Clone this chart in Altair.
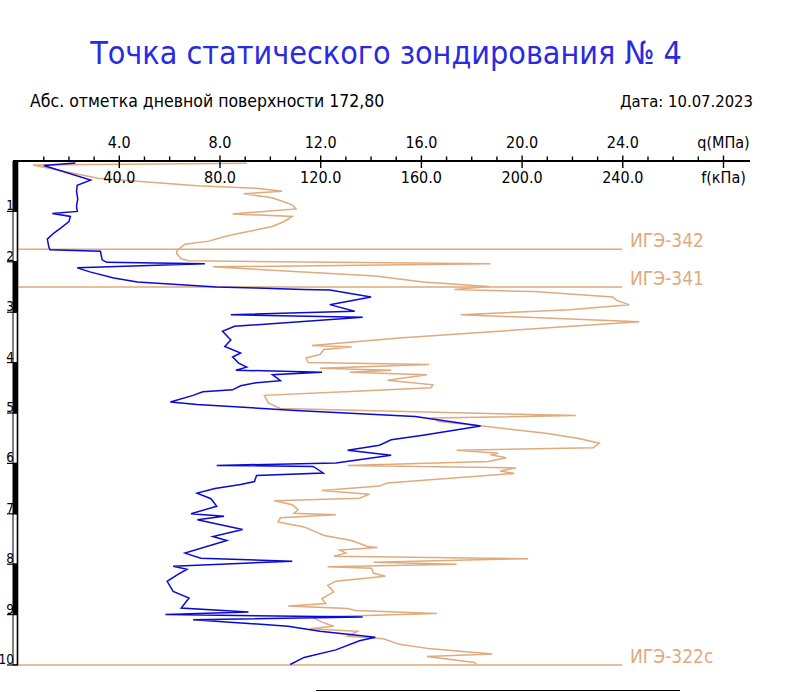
import altair as alt
import pandas as pd

# ---------------- data ----------------
blue_depth = [0.04, 0.09, 0.38, 0.48, 0.60, 0.75, 0.90, 1.00, 1.04, 1.10, 1.20, 1.33, 1.43, 1.55,
              1.70, 1.76, 1.79, 1.96, 2.01, 2.04, 2.12, 2.20, 2.32, 2.40, 2.45, 2.50, 2.52, 2.55,
              2.56, 2.70, 2.85, 2.98, 3.05, 3.10, 3.28, 3.38, 3.55, 3.68, 3.81, 3.89, 4.01, 4.09,
              4.15, 4.19, 4.24, 4.36, 4.40, 4.46, 4.54, 4.58, 4.65, 4.78, 4.83, 4.95, 5.07, 5.26,
              5.44, 5.53, 5.64, 5.74, 5.84, 5.99, 6.04, 6.06, 6.19, 6.24, 6.36, 6.42, 6.50, 6.59,
              6.70, 6.85, 7.00, 7.05, 7.12, 7.31, 7.45, 7.53, 7.78, 7.88, 7.94, 8.04, 8.10, 8.21,
              8.34, 8.54, 8.67, 8.87, 8.95, 9.00, 9.05, 9.10, 9.23, 9.33, 9.45, 9.52, 9.70, 9.85,
              9.99]
blue_q = [2.26, 1.00, 2.86, 2.33, 2.30, 2.35, 2.30, 2.33, 1.34, 2.06, 2.00, 1.67, 1.40, 1.14,
          1.20, 1.25, 3.25, 3.32, 3.50, 7.40, 2.33, 2.83, 3.78, 4.72, 6.30, 7.87, 9.45, 11.30,
          12.36, 14.00, 12.36, 13.35, 8.43, 13.67, 8.58, 8.10, 8.43, 8.19, 8.82, 8.50, 8.74, 9.06,
          8.63, 12.05, 10.08, 10.40, 9.45, 8.82, 8.50, 7.32, 6.93, 6.03, 7.09, 11.00, 15.75, 18.35,
          16.06, 14.80, 14.33, 13.07, 14.80, 12.60, 7.87, 11.70, 12.10, 9.45, 9.37, 8.82, 7.80, 7.09,
          7.64, 7.87, 6.85, 8.16, 7.10, 8.90, 7.72, 8.27, 6.61, 7.24, 10.87, 6.14, 6.69, 6.30,
          5.90, 6.14, 6.77, 6.46, 9.13, 5.83, 13.67, 6.93, 10.70, 11.97, 14.17, 13.54, 12.60, 11.34,
          10.79]

tan_depth = [0.046, 0.08, 0.34, 0.49, 0.54, 0.60, 0.65, 0.73, 0.87, 0.95, 1.05, 1.10, 1.20, 1.30,
             1.43, 1.50, 1.59, 1.65, 1.77, 1.83, 1.94, 1.98, 2.04, 2.10, 2.28, 2.40, 2.49, 2.55,
             2.59, 2.70, 2.77, 2.85, 2.95, 3.05, 3.19, 3.51, 3.66, 3.69, 3.74, 3.84, 3.91, 4.00,
             4.04, 4.11, 4.15, 4.19, 4.24, 4.35, 4.44, 4.50, 4.57, 4.65, 4.80, 4.91, 5.05, 5.10,
             5.17, 5.26, 5.40, 5.50, 5.60, 5.69, 5.74, 5.80, 5.83, 5.89, 5.96, 6.04, 6.09, 6.15,
             6.20, 6.39, 6.45, 6.54, 6.61, 6.69, 6.74, 6.82, 6.92, 6.99, 7.02, 7.08, 7.16, 7.26,
             7.43, 7.53, 7.65, 7.67, 7.72, 7.78, 7.84, 7.89, 7.96, 8.00, 8.05, 8.08, 8.18, 8.24,
             8.34, 8.42, 8.55, 8.68, 8.78, 8.83, 8.88, 8.92, 8.98, 9.05, 9.15, 9.23, 9.28, 9.33,
             9.43, 9.48, 9.59, 9.68, 9.78, 9.83, 9.95, 9.99]
tan_f = [90.7, 5.7, 31.5, 70.9, 94.5, 104.7, 89.4, 100.8, 108.7, 110.2, 85.0, 108.7, 105.5, 100.8,
         88.2, 81.9, 75.6, 66.1, 63.0, 62.7, 64.6, 67.7, 187.4, 77.2, 141.7, 160.6, 187.0, 173.2,
         204.7, 236.0, 237.8, 242.5, 218.9, 175.6, 246.5, 151.2, 116.5, 132.3, 121.3, 119.7, 114.2, 115.0,
         163.0, 119.7, 148.0, 131.5, 162.2, 146.5, 164.6, 163.8, 133.9, 97.6, 99.2, 103.9, 221.3, 164.6,
         167.0, 184.3, 209.4, 222.0, 230.7, 228.3, 174.0, 190.5, 187.5, 193.7, 186.6, 130.7, 197.6, 191.3,
         196.9, 146.5, 143.3, 120.5, 139.4, 135.4, 101.6, 108.7, 111.0, 109.4, 126.0, 104.0, 103.1, 113.4,
         121.3, 132.3, 138.6, 142.5, 127.6, 130.0, 125.2, 202.4, 141.0, 174.0, 122.8, 140.2, 141.0, 145.7,
         126.0, 122.8, 125.2, 120.5, 122.0, 107.1, 130.7, 133.9, 166.1, 116.5, 120.5, 125.2, 115.7, 134.6,
         130.7, 144.9, 151.2, 163.8, 188.2, 162.2, 181.1, 181.9]

q_major = [4, 8, 12, 16, 20, 24, 28]
q_labels = ["4.0", "8.0", "12.0", "16.0", "20.0", "24.0", "q(МПа)"]
f_labels = ["40.0", "80.0", "120.0", "160.0", "200.0", "240.0", "f(кПа)"]
q_minor = [1, 2, 3, 5, 6, 7, 9, 10, 11, 13, 14, 15, 17, 18, 19, 21, 22, 23, 25, 26, 27]
depth_marks = [1, 2, 3, 4, 5, 6, 7, 8, 9, 10]
depth_labels = ["1", "2", "3", "4", "5", "6", "7", "8", "9", "10"]
bar_top = [0, 1, 2, 3, 4, 5, 6, 7, 8, 9]
bar_bottom = [1, 2, 3, 4, 5, 6, 7, 8, 9, 10]
ige_depth = [1.75, 2.5, 10.0]
ige_names = ["ИГЭ-342", "ИГЭ-341", "ИГЭ-322с"]
title_text = "Точка статического зондирования № 4"
surface_text = "Абс. отметка дневной поверхности 172,80"
date_text = "Дата: 10.07.2023"

# ---------------- layout ----------------
W, H = 799, 692
X0, PX_MPA = 18.6, 25.175       # pixel of q=0, pixels per MPa (= 10 kPa)
Y0, PX_M = 161.0, 50.4          # pixel of depth 0, pixels per metre
xs = alt.Scale(domain=[-X0 / PX_MPA, (W - X0) / PX_MPA], nice=False, zero=False)
ys = alt.Scale(domain=[-Y0 / PX_M, (H - Y0) / PX_M], nice=False, zero=False, reverse=True)

FONT = "'Liberation Sans Narrow', 'DejaVu Sans Condensed', sans-serif"
TAN = "#DFAA7C"
BLUE = "#0a0ad2"

blue_df = pd.DataFrame({"i": range(len(blue_q)), "depth": blue_depth, "val": blue_q})
tan_df = pd.DataFrame({"i": range(len(tan_f)), "depth": tan_depth, "val": [v / 10 for v in tan_f]})
major_df = pd.DataFrame({"q": q_major, "ql": q_labels, "fl": f_labels})
minor_df = pd.DataFrame({"q": q_minor})
depth_df = pd.DataFrame({"d": depth_marks, "lab": depth_labels})
bar_df = pd.DataFrame({"top": bar_top, "bot": bar_bottom})
ige_df = pd.DataFrame({"d": ige_depth, "name": ige_names})
one = pd.DataFrame({"a": [0]})


def Xq(field):
    return alt.X(field, type="quantitative", scale=xs, axis=None)


def Yd(field):
    return alt.Y(field, type="quantitative", scale=ys, axis=None)


# depth bar
bar = alt.Chart(bar_df).mark_rect(stroke="black", strokeWidth=1).encode(
    x=alt.value(13), x2=alt.value(17.5),
    y=Yd("top"), y2=alt.Y2("bot"),
    fill=alt.condition("datum.top % 2 == 0", alt.value("black"), alt.value("white")),
)
bar_edge = alt.Chart(one).mark_rule(color="black", strokeWidth=1.6).encode(
    x=alt.value(17.5), y=alt.Y(datum=0, scale=ys, axis=None), y2=alt.Y2(datum=10)
)
depth_ticks = alt.Chart(depth_df).mark_rule(color="black", strokeWidth=1.2).encode(
    x=alt.value(7), x2=alt.value(18), y=Yd("d")
)
depth_text = alt.Chart(depth_df).mark_text(
    font=FONT, fontSize=13.5, align="right", baseline="alphabetic", dy=-1, color="black"
).encode(x=alt.value(14), y=Yd("d"), text="lab:N")

# top axis
axis_line = alt.Chart(one).mark_rule(color="black", strokeWidth=1.8).encode(
    x=alt.value(13), x2=alt.value(750), y=alt.Y(datum=0, scale=ys, axis=None)
)
major_ticks = alt.Chart(major_df).mark_rule(color="black", strokeWidth=1.4).encode(
    x=Xq("q"), y=alt.value(155.5), y2=alt.value(168)
)
minor_ticks = alt.Chart(minor_df).mark_rule(color="black", strokeWidth=1.4).encode(
    x=Xq("q"), y=alt.value(156.5), y2=alt.value(161.5)
)
q_text = alt.Chart(major_df).mark_text(
    font=FONT, fontSize=16, align="center", baseline="alphabetic", color="black"
).encode(x=Xq("q"), y=alt.value(148), text="ql:N")
f_text = alt.Chart(major_df).mark_text(
    font=FONT, fontSize=16, align="center", baseline="alphabetic", color="black"
).encode(x=Xq("q"), y=alt.value(183), text="fl:N")

# layer boundaries
ige_lines = alt.Chart(ige_df).mark_rule(color=TAN, strokeWidth=1.6).encode(
    x=alt.value(18), x2=alt.value(622), y=Yd("d")
)
ige_text = alt.Chart(ige_df).mark_text(
    font=FONT, fontSize=19, align="left", baseline="alphabetic", dy=-2, color=TAN
).encode(x=alt.value(630), y=Yd("d"), text="name:N")

# sounding curves
tan_line = alt.Chart(tan_df).mark_line(color=TAN, strokeWidth=1.5).encode(
    x=Xq("val"), y=Yd("depth"), order="i:Q"
)
blue_line = alt.Chart(blue_df).mark_line(color=BLUE, strokeWidth=1.5).encode(
    x=Xq("val"), y=Yd("depth"), order="i:Q"
)

# headings
title = alt.Chart(one).mark_text(
    font=FONT, fontSize=32, align="center", baseline="alphabetic", color="#2a2ae0", text=title_text
).encode(x=alt.value(386), y=alt.value(64))
surface = alt.Chart(one).mark_text(
    font=FONT, fontSize=17.5, align="left", baseline="alphabetic", color="black", text=surface_text
).encode(x=alt.value(30), y=alt.value(107))
date = alt.Chart(one).mark_text(
    font=FONT, fontSize=16.5, align="right", baseline="alphabetic", color="black", text=date_text
).encode(x=alt.value(753), y=alt.value(107))
bottom_rule = alt.Chart(one).mark_rule(color="black", strokeWidth=1.2).encode(
    x=alt.value(316), x2=alt.value(680), y=alt.value(690.5)
)

chart = alt.layer(
    ige_lines, tan_line, blue_line, bar, bar_edge, depth_ticks, depth_text,
    axis_line, major_ticks, minor_ticks, q_text, f_text, ige_text,
    title, surface, date, bottom_rule,
).properties(
    width=W, height=H, padding=0, autosize=alt.AutoSizeParams(type="none"), background="white"
).configure_view(stroke=None)

chart.save("out.html", embed_options={"renderer": "svg", "actions": False})
